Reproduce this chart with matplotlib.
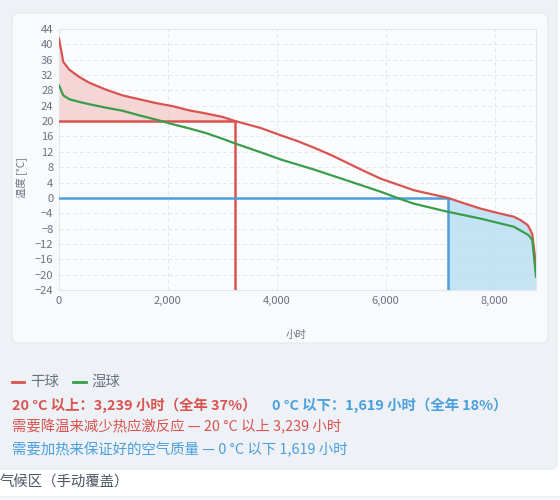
import matplotlib
matplotlib.use("Agg")
import matplotlib.pyplot as plt
from matplotlib.patches import FancyBboxPatch
from matplotlib.lines import Line2D
import numpy as np

plt.rcParams['font.family'] = ['Noto Sans CJK SC', 'DejaVu Sans']

# ---------------- data ----------------
hours_dry = [0, 79, 190, 373, 556, 862, 1168, 1474, 1780, 2086, 2391, 2697, 3003, 3239,
             3706, 4073, 4379, 4679, 4991, 5297, 5602, 5908, 6214, 6514, 6826, 7141,
             7437, 7743, 8049, 8349, 8477, 8600, 8630, 8692, 8730, 8760]
temp_dry = [41.5, 35.4, 33.4, 31.5, 30.0, 28.2, 26.7, 25.7, 24.7, 23.9, 22.8, 22.0, 21.1, 20.0,
            18.2, 16.3, 14.8, 13.1, 11.2, 9.1, 7.0, 5.0, 3.5, 2.0, 1.0, 0.0,
            -1.4, -2.8, -3.9, -4.9, -5.8, -7.0, -7.6, -9.5, -14.0, -18.0]
hours_wet = [0, 79, 190, 373, 556, 862, 1168, 1474, 1780, 2086, 2391, 2697, 3003, 3248,
             3700, 4073, 4679, 5297, 5908, 6211, 6514, 7132, 7743, 8349, 8624, 8692, 8760]
temp_wet = [29.3, 26.7, 25.7, 25.0, 24.4, 23.5, 22.7, 21.5, 20.4, 19.2, 18.1, 16.9, 15.4, 14.1,
            11.9, 10.0, 7.4, 4.5, 1.6, 0.0, -1.5, -3.6, -5.4, -7.5, -9.7, -11.0, -20.5]

total_hours = 8760
hot_threshold = 20
cold_threshold = 0
hot_hours = 3239
cold_hours = 1619
hot_pct = 37
cold_pct = 18

y_ticks = list(range(-24, 45, 4))
x_ticks = [0, 2000, 4000, 6000, 8000]
series_names = ["干球", "湿球"]

RED = "#d9534f"
GREEN = "#3a9d4a"
BLUE = "#4a9fdc"
GRAY_TXT = "#6b7280"

W, H = 560, 500
fig = plt.figure(figsize=(W / 100, H / 100), dpi=100)
fig.patch.set_facecolor("white")


def fx(px):
    return px / W


def fy(py):
    return 1 - py / H


def box(x0, y0, x1, y1, fc, ec="none", r=0.012):
    p = FancyBboxPatch((fx(x0), fy(y1)), fx(x1) - fx(x0), fy(y0) - fy(y1),
                       boxstyle=f"round,pad=0,rounding_size={r}",
                       transform=fig.transFigure, facecolor=fc, edgecolor=ec,
                       linewidth=0.8, zorder=-10)
    fig.add_artist(p)


# backgrounds
box(-10, -10, 557, 469, "#eef2f7", "#e4e9ef")
box(12, 13, 548, 343, "#f8fafc", "#e3e8ee")
box(-10, 497, 570, 520, "#f8fafc", "#e3e8ee")

ax = fig.add_axes([fx(59), fy(290), fx(536) - fx(59), fy(29) - fy(290)])
ax.set_facecolor("#fbfcfe")

hd = np.array(hours_dry, dtype=float)
td = np.array(temp_dry, dtype=float)

# fills
mask_hot = hd <= hot_hours
ax.fill_between(hd[mask_hot], td[mask_hot], hot_threshold, color="#f3c9c9", alpha=0.75,
                linewidth=0, zorder=1)
cold_start = total_hours - cold_hours
hx = np.concatenate([[cold_start], hd[hd > cold_start]])
hy = np.interp(hx, hd, td)
ax.fill_between(hx, hy, -24, color="#b9dcf3", alpha=0.8, linewidth=0, zorder=1)

# threshold lines
ax.plot([0, hot_hours], [hot_threshold, hot_threshold], color=RED, lw=1.8, zorder=3)
ax.plot([hot_hours, hot_hours], [-24, hot_threshold], color=RED, lw=1.8, zorder=3)
ax.plot([0, cold_start], [cold_threshold, cold_threshold], color=BLUE, lw=1.8, zorder=3)
ax.plot([cold_start, cold_start], [-24, cold_threshold], color=BLUE, lw=1.8, zorder=3)

# series
ax.plot(hours_dry, temp_dry, color=RED, lw=1.6, zorder=4, solid_joinstyle="round")
ax.plot(hours_wet, temp_wet, color=GREEN, lw=1.6, zorder=5, solid_joinstyle="round")

ax.set_xlim(0, total_hours)
ax.set_ylim(-24, 44)
ax.set_yticks(y_ticks)
ax.set_yticklabels([f"{v}".replace("-", "\u2212") for v in y_ticks])
ax.set_xticks(x_ticks)
ax.set_xticklabels([f"{v:,}" for v in x_ticks])
ax.tick_params(axis="both", length=0, labelsize=8, colors=GRAY_TXT, pad=4)
ax.grid(True, color="#e2e7ee", linestyle=(0, (4, 3)), linewidth=0.7)
ax.set_axisbelow(True)
for s in ax.spines.values():
    s.set_color("#e2e7ee")
    s.set_linewidth(0.8)

fig.text(fx(22), fy(177), "温度 [°C]", rotation=90, ha="center", va="center",
         fontsize=7.5, color=GRAY_TXT)
fig.text(fx(296), fy(335), "小时", ha="center", va="center", fontsize=7.5, color=GRAY_TXT)

FS = 10.4
# legend
fig.add_artist(Line2D([fx(12), fx(24)], [fy(382), fy(382)], color=RED, lw=2,
                      transform=fig.transFigure))
fig.text(fx(30), fy(382), series_names[0], ha="left", va="center", fontsize=FS,
         color=GRAY_TXT)
fig.add_artist(Line2D([fx(73), fx(86)], [fy(382), fy(382)], color=GREEN, lw=2,
                      transform=fig.transFigure))
fig.text(fx(91), fy(382), series_names[1], ha="left", va="center", fontsize=FS,
         color=GRAY_TXT)

fig.text(fx(12), fy(405),
         f"{hot_threshold} °C 以上：{hot_hours:,} 小时（全年 {hot_pct}%）",
         ha="left", va="center", fontsize=FS, color=RED, fontweight="bold")
fig.text(fx(272), fy(405),
         f"{cold_threshold} °C 以下：{cold_hours:,} 小时（全年 {cold_pct}%）",
         ha="left", va="center", fontsize=FS, color=BLUE, fontweight="bold")
fig.text(fx(12), fy(427),
         f"需要降温来减少热应激反应 — {hot_threshold} °C 以上 {hot_hours:,} 小时",
         ha="left", va="center", fontsize=FS, color=RED)
fig.text(fx(12), fy(450),
         f"需要加热来保证好的空气质量 — {cold_threshold} °C 以下 {cold_hours:,} 小时",
         ha="left", va="center", fontsize=FS, color=BLUE)
fig.text(fx(0), fy(483), "气候区（手动覆盖）", ha="left", va="center", fontsize=FS,
         color="#4b5563")

fig.savefig("out.png", dpi=100)
